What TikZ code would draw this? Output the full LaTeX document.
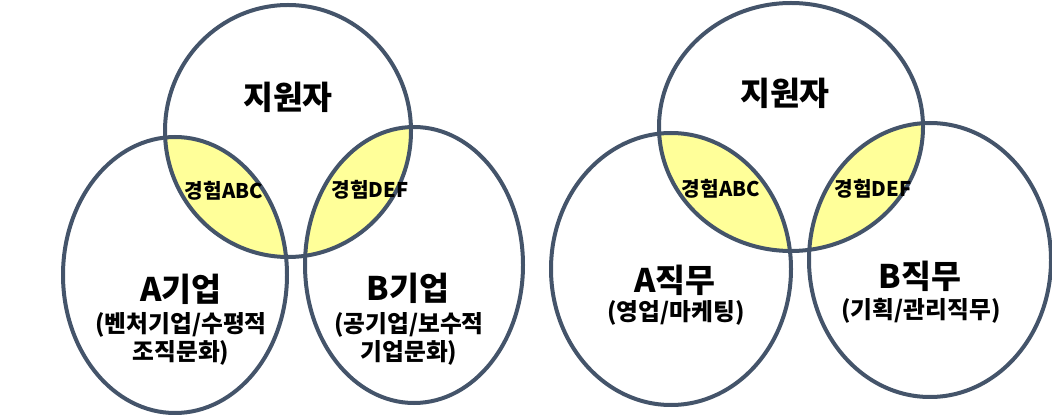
\documentclass[tikz,border=0pt]{standalone}
\usepackage{fontspec}
\setmainfont{Noto Sans CJK KR}
\usepackage{xcolor}
\usepackage{tikz}
\usetikzlibrary{positioning}
\definecolor{rim}{RGB}{68,84,106}
\definecolor{lens}{RGB}{255,255,153}

\begin{document}
\begin{tikzpicture}[x=0.02cm,y=-0.02cm,
    rimline/.style={draw=rim,line width=0.08cm},
    bigtxt/.style={font=\fontsize{18.5}{20}\selectfont\bfseries},
    midtxt/.style={font=\fontsize{13.5}{16}\selectfont\bfseries,align=center},
    lenstxt/.style={font=\fontsize{11.5}{13}\selectfont\bfseries}]

    \useasboundingbox (0,0) rectangle (1052,415);

    % Lenses (left diagram)
    \begin{scope}
      \clip (288,131) ellipse (123 and 126);
      \fill[lens] (175,275) ellipse (112 and 138);
      \fill[lens] (414,265) ellipse (109 and 138);
    \end{scope}

    % Lenses (right diagram)
    \begin{scope}
      \clip (791,127) ellipse (132 and 124);
      \fill[lens] (671,269) ellipse (120 and 136);
      \fill[lens] (930,260) ellipse (121 and 137);
    \end{scope}

    % Ellipses
    \draw[rimline] (288,131) ellipse (123 and 126);
    \draw[rimline] (175,275) ellipse (112 and 138);
    \draw[rimline] (414,265) ellipse (109 and 138);
    \draw[rimline] (791,127) ellipse (132 and 124);
    \draw[rimline] (671,269) ellipse (120 and 136);
    \draw[rimline] (930,260) ellipse (121 and 137);

    % Labels (left)
    \node[bigtxt] (appL) at (288,97) {지원자};
    \node[lenstxt] (expAL) at (224,191) {경험ABC};
    \node[lenstxt] (expDL) at (370,190) {경험DEF};
    \node[bigtxt] (firmA) at (181,289) {A기업};
    \node[midtxt] (firmAsub) at (181,339) {(벤처기업/수평적\\조직문화)};
    \node[bigtxt] (firmB) at (408,288) {B기업};
    \node[midtxt] (firmBsub) at (409,339) {(공기업/보수적\\기업문화)};

    % Labels (right)
    \node[bigtxt] (appR) at (785,93) {지원자};
    \node[lenstxt] (expAR) at (721,189) {경험ABC};
    \node[lenstxt] (expDR) at (873,189) {경험DEF};
    \node[bigtxt] (jobA) at (675,280) {A직무};
    \node[midtxt] (jobAsub) at (676,313) {(영업/마케팅)};
    \node[bigtxt] (jobB) at (920,276) {B직무};
    \node[midtxt] (jobBsub) at (921,311) {(기획/관리직무)};

\end{tikzpicture}
\end{document}
